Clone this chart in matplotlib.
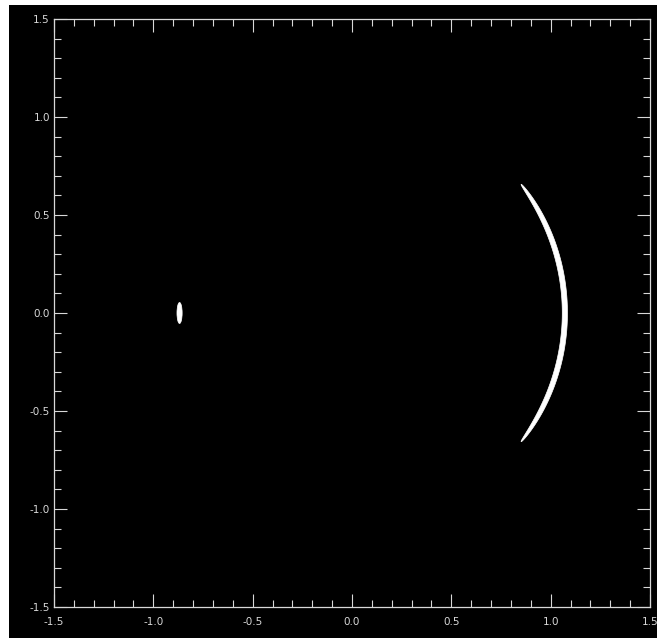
import matplotlib
matplotlib.use("Agg")
import matplotlib.pyplot as plt
import numpy as np
from matplotlib.patches import Ellipse, Polygon, Rectangle
from matplotlib.ticker import MultipleLocator, FormatStrFormatter

# plot window
xlim = [-1.5, 1.5]
ylim = [-1.5, 1.5]

# main arc: centre line is a circle piece, thickness tapers to the tips
arc_centre = [-0.0175, 0.0]
arc_radius = 1.089
arc_half_angle = 37.1      # degrees
arc_thickness = 0.026

# counter image
spot_xy = [-0.868, 0.0]
spot_width = 0.026
spot_height = 0.107

fg = "#d8d8d8"

fig = plt.figure(figsize=(6.57, 6.38), dpi=100, facecolor="white")
fig.patches.append(Rectangle((9 / 657, 0), 1, 633.5 / 638, transform=fig.transFigure,
                             facecolor="black", edgecolor="none", zorder=-10))

ax = fig.add_axes([54 / 657, 31 / 638, 596 / 657, 588 / 638])
ax.set_facecolor("black")

# build the crescent outline
phi = np.radians(np.linspace(-arc_half_angle, arc_half_angle, 400))
half_t = 0.5 * arc_thickness * np.clip(1 - (phi / phi.max()) ** 4, 0, 1) ** 0.5
r_out = arc_radius + half_t
r_in = arc_radius - half_t
xo = arc_centre[0] + r_out * np.cos(phi)
yo = arc_centre[1] + r_out * np.sin(phi)
xi = arc_centre[0] + r_in[::-1] * np.cos(phi[::-1])
yi = arc_centre[1] + r_in[::-1] * np.sin(phi[::-1])
pts = np.column_stack([np.concatenate([xo, xi]), np.concatenate([yo, yi])])
ax.add_patch(Polygon(pts, closed=True, facecolor="white", edgecolor="white", lw=0.5))

ax.add_patch(Ellipse(spot_xy, spot_width, spot_height, facecolor="white",
                     edgecolor="white", lw=0.5))

ax.set_xlim(xlim)
ax.set_ylim(ylim)

ax.xaxis.set_major_locator(MultipleLocator(0.5))
ax.xaxis.set_minor_locator(MultipleLocator(0.1))
ax.yaxis.set_major_locator(MultipleLocator(0.5))
ax.yaxis.set_minor_locator(MultipleLocator(0.1))
ax.xaxis.set_major_formatter(FormatStrFormatter("%.1f"))
ax.yaxis.set_major_formatter(FormatStrFormatter("%.1f"))

for s in ax.spines.values():
    s.set_color(fg)
    s.set_linewidth(0.9)

ax.tick_params(which="both", direction="in", top=True, right=True, colors=fg,
               width=0.8, labelsize=7.5)
ax.tick_params(which="major", length=9.5)
ax.tick_params(which="minor", length=5)
ax.tick_params(axis="x", which="major", pad=7)
ax.tick_params(axis="y", which="major", pad=3)

plt.savefig("out.png", dpi=100, facecolor=fig.get_facecolor())
